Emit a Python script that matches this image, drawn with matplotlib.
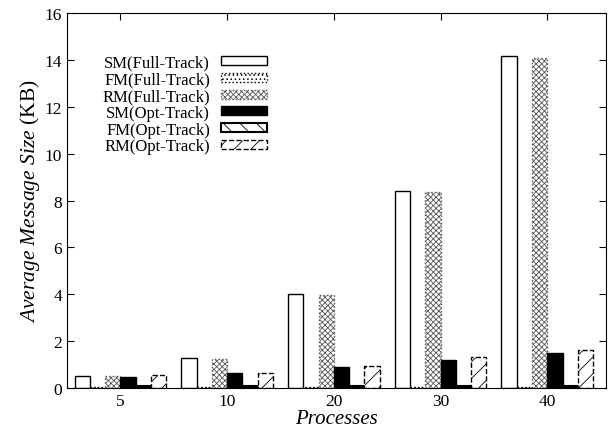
import numpy as np
import matplotlib.pyplot as plt

plt.rcParams['font.family'] = ['Liberation Serif', 'DejaVu Serif']
plt.rcParams['mathtext.fontset'] = 'custom'
plt.rcParams['mathtext.rm'] = 'Liberation Serif'
plt.rcParams['mathtext.it'] = 'Liberation Serif:italic'
plt.rcParams['hatch.linewidth'] = 0.6

procesos = ['5', '10', '20', '30', '40']
series = ['SM(Full-Track)', 'FM(Full-Track)', 'RM(Full-Track)',
          'SM(Opt-Track)', 'FM(Opt-Track)', 'RM(Opt-Track)']
sm_full = [0.53, 1.27, 4.0, 8.42, 14.15]
fm_full = [0.06, 0.06, 0.06, 0.06, 0.06]
rm_full = [0.50, 1.25, 3.96, 8.38, 14.1]
sm_opt = [0.46, 0.63, 0.91, 1.21, 1.48]
fm_opt = [0.08, 0.08, 0.08, 0.08, 0.08]
rm_opt = [0.56, 0.64, 0.95, 1.31, 1.62]

# estilos tipo gnuplot
estilos = [
    dict(facecolor='white', edgecolor='black', linestyle='-', hatch=None),
    dict(facecolor='white', edgecolor='black', linestyle=':', hatch='....'),
    dict(facecolor='white', edgecolor='#555555', linestyle=':', hatch='xxxxxx'),
    dict(facecolor='black', edgecolor='black', linestyle='-', hatch=None),
    dict(facecolor='white', edgecolor='black', linestyle='-', hatch='\\\\', linewidth=1.5),
    dict(facecolor='white', edgecolor='black', linestyle='--', hatch='//'),
]

valores = [sm_full, fm_full, rm_full, sm_opt, fm_opt, rm_opt]

fig = plt.figure(figsize=(6.09, 4.31), dpi=100)
ax = fig.add_axes([0.110, 0.0974, 0.885, 0.870])

x = np.arange(len(procesos))
ancho = 0.143
for i, (nombre, vals, est) in enumerate(zip(series, valores, estilos)):
    est = dict(est)
    lw = est.pop('linewidth', 1.0)
    ax.bar(x + (i - 2.5) * ancho, vals, ancho, label=nombre, linewidth=lw, **est)

ax.set_xlim(-0.5, 4.55)
ax.set_ylim(0, 16)
ax.set_yticks(range(0, 17, 2))
ax.set_xticks(x)
ax.set_xticklabels(procesos)
ax.tick_params(direction='in', top=True, right=True, labelsize=12.5, length=5)
ax.set_xlabel('Processes', style='italic', fontsize=15, labelpad=0)
ax.set_ylabel(r'$\mathit{Average\ Message\ Size}$ (KB)', fontsize=15.5, labelpad=2)

ax.legend(loc='upper right', bbox_to_anchor=(0.372, 0.89), frameon=False,
          markerfirst=False, fontsize=12, handlelength=2.8, handleheight=0.45,
          labelspacing=0.05, handletextpad=0.65, borderaxespad=0, borderpad=0)

fig.savefig('out.png', dpi=100)
